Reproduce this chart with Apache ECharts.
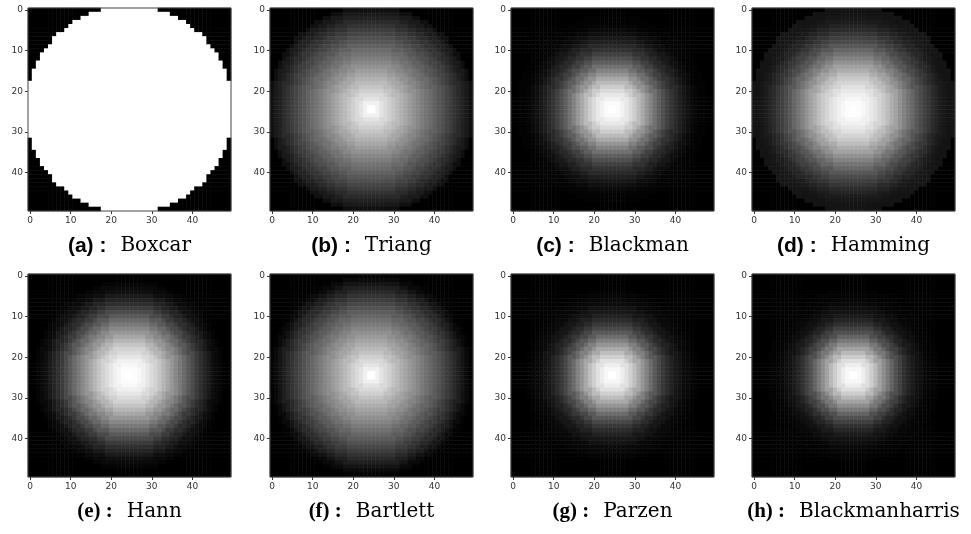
<!DOCTYPE html>
<html>
<head>
<meta charset="utf-8">
<script src="https://cdn.jsdelivr.net/npm/echarts@6/dist/echarts.min.js"></script>
<style>
  html, body { margin: 0; padding: 0; background: #fff; }
  #chart { width: 971px; height: 534px; }
</style>
</head>
<body>
<div id="chart"></div>
<script>
// radial profile of each window, read at radius 1..25 cells from the centre (outside -> 0)
const boxcar = [1, 1, 1, 1, 1, 1, 1, 1, 1, 1, 1, 1, 1, 1, 1, 1, 1, 1, 1, 1, 1, 1, 1, 1, 1];
const triang = [1.00, 0.94, 0.89, 0.85, 0.81, 0.77, 0.73, 0.69, 0.65, 0.61, 0.57, 0.53, 0.49, 0.45, 0.42, 0.38, 0.34, 0.31, 0.27, 0.24, 0.20, 0.17, 0.13, 0.10, 0.06];
const blackman = [1.00, 0.98, 0.95, 0.91, 0.86, 0.80, 0.73, 0.66, 0.58, 0.51, 0.44, 0.37, 0.31, 0.25, 0.20, 0.16, 0.12, 0.09, 0.06, 0.04, 0.02, 0.01, 0.01, 0.00, 0.00];
const hamming = [1.00, 0.99, 0.97, 0.94, 0.91, 0.88, 0.83, 0.79, 0.74, 0.68, 0.63, 0.57, 0.51, 0.45, 0.40, 0.34, 0.29, 0.25, 0.21, 0.17, 0.14, 0.11, 0.09, 0.08, 0.08];
const hann = [1.00, 0.99, 0.97, 0.94, 0.90, 0.86, 0.82, 0.77, 0.71, 0.65, 0.59, 0.53, 0.47, 0.41, 0.35, 0.29, 0.23, 0.18, 0.14, 0.10, 0.06, 0.04, 0.02, 0.00, 0.00];
const bartlett = [1.00, 0.94, 0.89, 0.85, 0.81, 0.76, 0.72, 0.68, 0.64, 0.60, 0.56, 0.52, 0.48, 0.44, 0.40, 0.36, 0.32, 0.28, 0.24, 0.20, 0.16, 0.12, 0.08, 0.04, 0.01];
const parzen = [1.00, 0.97, 0.93, 0.88, 0.81, 0.74, 0.66, 0.58, 0.50, 0.42, 0.35, 0.28, 0.22, 0.17, 0.13, 0.09, 0.07, 0.04, 0.03, 0.02, 0.01, 0.00, 0.00, 0.00, 0.00];
const blackmanharris = [1.00, 0.97, 0.93, 0.87, 0.80, 0.72, 0.63, 0.55, 0.47, 0.39, 0.31, 0.25, 0.19, 0.14, 0.10, 0.07, 0.05, 0.03, 0.02, 0.01, 0.01, 0.00, 0.00, 0.00, 0.00];

const profiles = [boxcar, triang, blackman, hamming, hann, bartlett, parzen, blackmanharris];
const letters = ['a', 'b', 'c', 'd', 'e', 'f', 'g', 'h'];
const names = ['Boxcar', 'Triang', 'Blackman', 'Hamming', 'Hann', 'Bartlett', 'Parzen', 'Blackmanharris'];

const size = 50;
const cells = [];
for (let i = 0; i < size; i++) cells.push(String(i));

// turn a radial profile into the 50x50 grid (nearest radius lookup)
function grid(profile) {
  const out = [];
  const c = (size - 1) / 2;
  for (let x = 0; x < size; x++) {
    for (let y = 0; y < size; y++) {
      const k = Math.round(Math.hypot(x - c, y - c));
      out.push([x, y, k >= 1 && k <= profile.length ? profile[k - 1] : 0]);
    }
  }
  return out;
}

const colLeft = [28, 270, 511, 752];
const rowTop = [8, 274];
const captionY = [246, 512];
const W = 203, H = 203;

const chart = echarts.init(document.getElementById('chart'));

const grids = [], xAxes = [], yAxes = [], series = [], visualMaps = [], texts = [];
const tickFont = { fontSize: 9, color: '#333', fontFamily: 'DejaVu Sans', margin: 5 };

profiles.forEach((p, i) => {
  const col = i % 4, row = Math.floor(i / 4);
  grids.push({
    left: colLeft[col], top: rowTop[row], width: W, height: H,
    show: true, borderColor: '#444', borderWidth: 1, backgroundColor: 'transparent', z: 5
  });
  xAxes.push({
    type: 'category', gridIndex: i, data: cells,
    axisLine: { show: false },
    axisTick: { show: true, interval: 9, alignWithLabel: true, length: 3, lineStyle: { color: '#333' } },
    axisLabel: Object.assign({ interval: 9 }, tickFont),
    splitLine: { show: false }
  });
  yAxes.push({
    type: 'category', gridIndex: i, data: cells, inverse: true,
    axisLine: { show: false },
    axisTick: { show: true, interval: 9, alignWithLabel: true, length: 3, lineStyle: { color: '#333' } },
    axisLabel: Object.assign({ interval: 9 }, tickFont),
    splitLine: { show: false }
  });
  series.push({
    type: 'heatmap', xAxisIndex: i, yAxisIndex: i,
    data: grid(p), progressive: 0, silent: true
  });
  visualMaps.push({
    type: 'continuous', show: false, seriesIndex: i, dimension: 2,
    min: 0, max: Math.max(...p),
    inRange: { color: ['#000000', '#ffffff'] }
  });
  const labelFont = row === 0 ? 'Liberation Sans' : 'Liberation Serif';
  texts.push({
    type: 'text',
    x: colLeft[col] + W / 2, y: captionY[row],
    style: {
      text: '{b|(' + letters[i] + ') :}{s|}{n|' + names[i] + '}',
      align: 'center', verticalAlign: 'middle',
      rich: {
        b: { fontFamily: labelFont, fontWeight: 'bold', fontSize: 21, fill: '#000' },
        s: { width: 14 },
        n: { fontFamily: 'DejaVu Serif', fontSize: 20, fill: '#000' }
      }
    }
  });
});

chart.setOption({
  animation: false,
  backgroundColor: '#fff',
  grid: grids,
  xAxis: xAxes,
  yAxis: yAxes,
  visualMap: visualMaps,
  series: series,
  graphic: texts
});
</script>
</body>
</html>
